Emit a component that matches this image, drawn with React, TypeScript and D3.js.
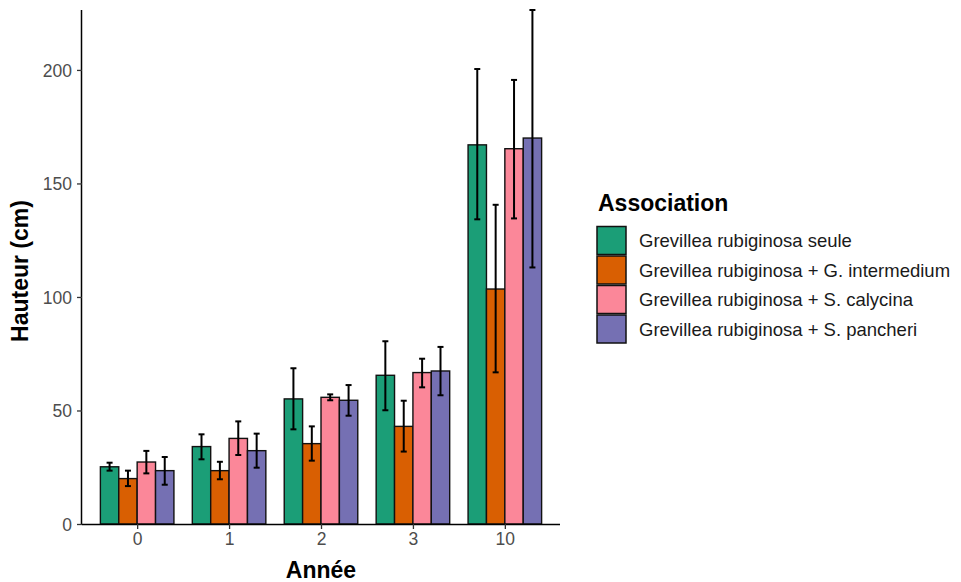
import * as d3 from "d3";
import { useEffect, useRef } from "react";

const years = ["0", "1", "2", "3", "10"];
const associations = [
  "Grevillea rubiginosa seule",
  "Grevillea rubiginosa + G. intermedium",
  "Grevillea rubiginosa + S. calycina",
  "Grevillea rubiginosa + S. pancheri",
];
const colors = ["#1B9E77", "#D95F02", "#FB8799", "#7570B3"];

// mean height per year, one array per association
const seule = [25.2, 34.1, 55.1, 65.5, 167];
const intermedium = [20, 23.5, 35.4, 43, 103.5];
const calycina = [27.3, 37.7, 55.8, 66.7, 165.3];
const pancheri = [23.5, 32.3, 54.5, 67.4, 170];

// error bar lower / upper bounds
const seuleLow = [23.5, 28.5, 41.7, 50.1, 134.2];
const seuleHigh = [27, 39.5, 68.6, 80.5, 200.4];
const intermediumLow = [16.7, 19.7, 27.9, 31.9, 66.8];
const intermediumHigh = [23.5, 27.4, 43, 54.3, 140.6];
const calycinaLow = [22.3, 30.4, 54.5, 60.2, 134.6];
const calycinaHigh = [32.2, 45.2, 57.1, 72.8, 195.6];
const pancheriLow = [17.3, 24.8, 47.7, 56.7, 113];
const pancheriHigh = [29.5, 39.8, 61.2, 78, 226.4];

const yTicks = [0, 50, 100, 150, 200];

const means = [seule, intermedium, calycina, pancheri];
const lows = [seuleLow, intermediumLow, calycinaLow, pancheriLow];
const highs = [seuleHigh, intermediumHigh, calycinaHigh, pancheriHigh];

const App = () => {
  const ref = useRef<SVGSVGElement>(null);

  useEffect(() => {
    const svg = d3.select(ref.current);
    svg.selectAll("*").remove();

    const font = "'Liberation Sans', Arial, sans-serif";
    const margin = { top: 10, left: 82, right: 401, bottom: 58 };
    const width = 961 - margin.left - margin.right;
    const height = 582 - margin.top - margin.bottom;

    const rows = years.flatMap((yr, i) =>
      associations.map((a, j) => ({
        year: yr,
        assoc: a,
        value: means[j][i],
        low: lows[j][i],
        high: highs[j][i],
        color: colors[j],
      }))
    );

    // ggplot-like discrete expansion (0.6 each side)
    const step = width / (years.length - 1 + 1.2);
    const x = d3
      .scalePoint()
      .domain(years)
      .range([0.6 * step, width - 0.6 * step]);
    const x1 = d3
      .scaleBand()
      .domain(associations)
      .range([-0.4 * step, 0.4 * step]);

    const y = d3.scaleLinear().domain([0, 226.4]).range([height, 0]);

    const g = svg
      .append("g")
      .attr("transform", `translate(${margin.left},${margin.top})`);

    // bars
    g.selectAll("rect.bar")
      .data(rows)
      .join("rect")
      .attr("class", "bar")
      .attr("x", (d) => x(d.year)! + x1(d.assoc)!)
      .attr("y", (d) => y(d.value))
      .attr("width", x1.bandwidth())
      .attr("height", (d) => y(0) - y(d.value))
      .attr("fill", (d) => d.color)
      .attr("stroke", "#111")
      .attr("stroke-width", 1.4);

    // error bars
    const cap = 3;
    const eb = g
      .selectAll("g.err")
      .data(rows)
      .join("g")
      .attr("class", "err")
      .attr("stroke", "#000")
      .attr("stroke-width", 2)
      .attr(
        "transform",
        (d) => `translate(${x(d.year)! + x1(d.assoc)! + x1.bandwidth() / 2},0)`
      );
    eb.append("line")
      .attr("y1", (d) => y(d.low))
      .attr("y2", (d) => y(d.high));
    eb.append("line")
      .attr("x1", -cap)
      .attr("x2", cap)
      .attr("y1", (d) => y(d.low))
      .attr("y2", (d) => y(d.low));
    eb.append("line")
      .attr("x1", -cap)
      .attr("x2", cap)
      .attr("y1", (d) => y(d.high))
      .attr("y2", (d) => y(d.high));

    // axes
    const xAxis = g
      .append("g")
      .attr("transform", `translate(0,${height})`)
      .call(d3.axisBottom(x).tickSize(5).tickPadding(4).tickSizeOuter(0));
    xAxis.select(".domain").attr("d", `M0,0.5H${width}`);
    const yAxis = g
      .append("g")
      .call(d3.axisLeft(y).tickValues(yTicks).tickSize(5).tickPadding(5));
    yAxis.select(".domain").attr("d", `M-0.5,0V${height}`);

    for (const ax of [xAxis, yAxis]) {
      ax.select(".domain").attr("stroke", "#000").attr("stroke-width", 1.5);
      ax.selectAll(".tick line").attr("stroke", "#333").attr("stroke-width", 1.3);
      ax.selectAll(".tick text")
        .attr("fill", "#4D4D4D")
        .attr("font-size", 17.5)
        .attr("font-family", font);
    }
    yAxis.selectAll(".tick text").attr("dy", "0.36em");

    // axis titles
    svg
      .append("text")
      .attr("x", margin.left + width / 2)
      .attr("y", 578)
      .attr("text-anchor", "middle")
      .attr("font-family", font)
      .attr("font-weight", "bold")
      .attr("font-size", 23)
      .text("Année");
    svg
      .append("text")
      .attr("transform", `translate(28,${margin.top + height / 2 + 4}) rotate(-90)`)
      .attr("text-anchor", "middle")
      .attr("font-family", font)
      .attr("font-weight", "bold")
      .attr("font-size", 23)
      .text("Hauteur (cm)");

    // legend
    const legend = svg.append("g").attr("transform", "translate(597,0)");
    legend
      .append("text")
      .attr("x", 1)
      .attr("y", 211)
      .attr("font-family", font)
      .attr("font-weight", "bold")
      .attr("font-size", 23)
      .text("Association");
    const item = legend
      .selectAll("g.item")
      .data(associations)
      .join("g")
      .attr("class", "item")
      .attr("transform", (_, i) => `translate(0,${226.5 + i * 29.5})`);
    item
      .append("rect")
      .attr("width", 29)
      .attr("height", 28)
      .attr("fill", (_, i) => colors[i])
      .attr("stroke", "#111")
      .attr("stroke-width", 1.5);
    item
      .append("text")
      .attr("x", 42)
      .attr("y", 14)
      .attr("dy", "0.36em")
      .attr("font-family", font)
      .attr("font-size", 18.5)
      .attr("fill", "#1A1A1A")
      .text((d) => d);
  }, []);

  return (
    <svg
      ref={ref}
      width={961}
      height={582}
      style={{ position: "absolute", left: 0, top: 0, background: "#fff" }}
    />
  );
};

export default App;
